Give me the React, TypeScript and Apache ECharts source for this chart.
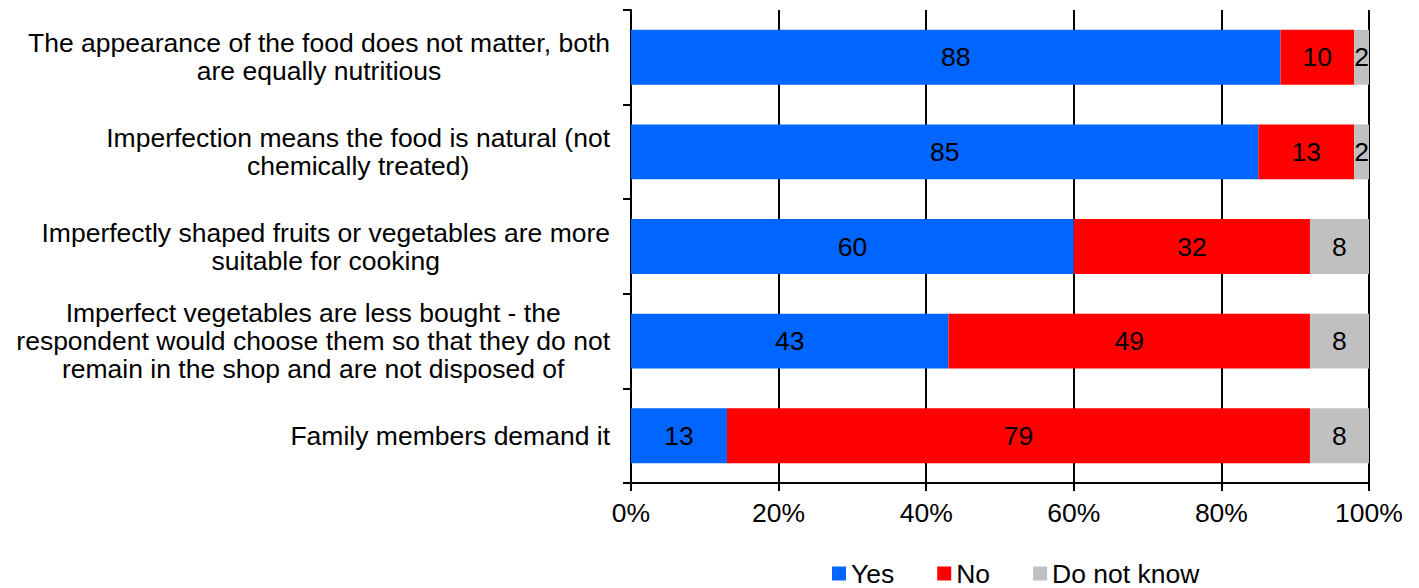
import React, { useEffect, useRef } from "react";
import * as echarts from "echarts";

const categories = [
  "The appearance of the food does not matter, both\nare equally nutritious",
  "Imperfection means the food is natural (not\nchemically treated)",
  "Imperfectly shaped fruits or vegetables are more\nsuitable for cooking",
  "Imperfect vegetables are less bought - the\nrespondent would choose them so that they do not\nremain in the shop and are not disposed of",
  "Family members demand it",
];
const yesValues = [88, 85, 60, 43, 13];
const noValues = [10, 13, 32, 49, 79];
const dontKnowValues = [2, 2, 8, 8, 8];
const xTicks = [0, 20, 40, 60, 80, 100];

const FONT = "'Liberation Sans', Arial, sans-serif";
const FS = 26.5;

export default function App() {
  const ref = useRef<HTMLDivElement>(null);
  useEffect(() => {
    if (!ref.current) return;
    const chart = echarts.init(ref.current, undefined, { renderer: "svg" });
    const labelStyle = {
      show: true,
      position: "inside" as const,
      color: "#000",
      fontSize: FS,
      fontFamily: FONT,
    };
    const mk = (name: string, data: number[], color: string) => ({
      name,
      type: "bar" as const,
      stack: "total",
      data,
      barWidth: "58%",
      itemStyle: { color },
      label: labelStyle,
    });
    chart.setOption({
      animation: false,
      textStyle: { fontFamily: FONT },
      grid: { left: 631, right: 50, top: 10, bottom: 105, containLabel: false },
      xAxis: {
        type: "value",
        min: xTicks[0],
        max: xTicks[xTicks.length - 1],
        interval: 20,
        axisLine: { show: true, lineStyle: { color: "#000", width: 2 } },
        axisTick: { show: true, length: 8, lineStyle: { color: "#000", width: 2 } },
        splitLine: { show: true, lineStyle: { color: "#000", width: 2 } },
        axisLabel: {
          formatter: "{value}%",
          color: "#000",
          fontSize: FS,
          fontFamily: FONT,
          margin: 16,
        },
      },
      yAxis: {
        type: "category",
        inverse: true,
        data: categories,
        axisLine: { show: true, lineStyle: { color: "#000", width: 2 } },
        axisTick: { show: true, length: 8, lineStyle: { color: "#000", width: 2 } },
        axisLabel: {
          margin: 21,
          formatter: (v: string) =>
            v
              .split("\n")
              .map((l) => `{c|${l}}`)
              .join("\n"),
          rich: {
            c: {
              align: "center",
              color: "#000",
              fontSize: FS,
              lineHeight: 28,
              fontFamily: FONT,
            },
          },
        },
      },
      legend: {
        top: 560,
        left: 832,
        icon: "rect",
        itemWidth: 14,
        itemHeight: 14,
        itemGap: 43,
        padding: 0,
        textStyle: { color: "#000", fontSize: FS, fontFamily: FONT },
        data: ["Yes", "No", "Do not know"],
      },
      series: [
        mk("Yes", yesValues, "#0066FF"),
        mk("No", noValues, "#FF0000"),
        mk("Do not know", dontKnowValues, "#C0C0C0"),
      ],
    });
    return () => chart.dispose();
  }, []);
  return (
    <div
      ref={ref}
      style={{ position: "fixed", left: 0, top: 0, width: 1419, height: 588, background: "#fff" }}
    />
  );
}
